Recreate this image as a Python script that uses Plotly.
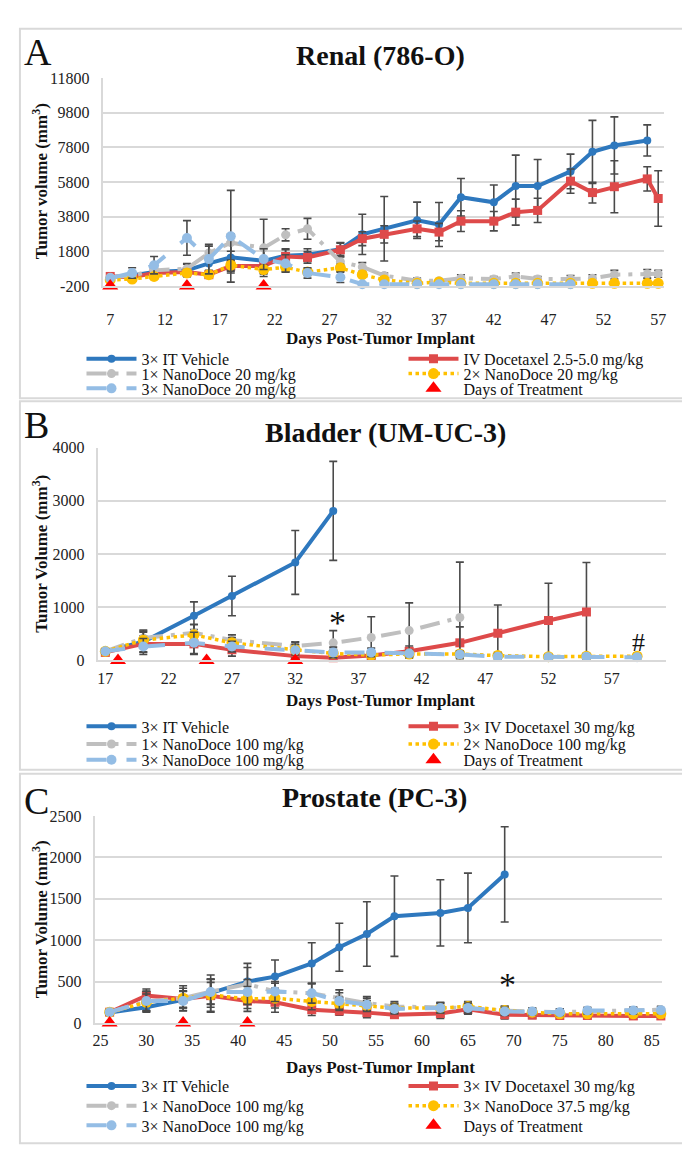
import plotly.graph_objects as go

W, H = 690, 1156
SERIF = "Liberation Serif, Times New Roman, serif"

# ---------------- Panel A : Renal (786-O) ----------------
days_A = [7, 9, 11, 14, 16, 18, 21, 23, 25, 28, 30, 32, 35, 37, 39, 42, 44, 46, 49, 51, 53, 56]
days_A_ext = [7, 9, 11, 14, 16, 18, 21, 23, 25, 28, 30, 32, 35, 37, 39, 42, 44, 46, 49, 51, 53, 56, 57]
days_A_3x = [7, 9, 11, 14, 16, 18, 21, 23, 25, 28, 30, 32, 35, 37, 39, 42, 44, 46, 49]
vehicle_A = [300, 400, 600, 700, 1100, 1450, 1250, 1550, 1600, 1920, 2780, 3100, 3590, 3350, 4920, 4630, 5570, 5570, 6410, 7540, 7910, 8200]
vehicle_A_err = [80, 150, 250, 350, 400, 900, 700, 400, 350, 350, 1160, 1860, 1050, 1270, 1080, 1000, 1780, 1530, 1000, 1820, 1650, 900]
docetaxel_A = [350, 300, 550, 600, 450, 950, 950, 1500, 1450, 1890, 2530, 2780, 3100, 2910, 3540, 3540, 4060, 4160, 5850, 5190, 5530, 5980, 4850]
docetaxel_A_err = [80, 100, 200, 250, 200, 300, 300, 400, 330, 420, 400, 500, 450, 500, 600, 560, 750, 700, 700, 600, 1500, 700, 1600]
nano1_A = [300, 400, 700, 800, 1700, 2300, 2000, 2750, 3100, 1200, 900, 400, 100, 100, 250, 200, 350, 200, 200, 250, 450, 500, 500]
nano1_A_err = [80, 150, 200, 300, 400, 500, 1650, 350, 600, 300, 250, 150, 150, 100, 200, 150, 200, 150, 200, 200, 250, 250, 200]
nano2_A = [150, 200, 350, 550, 450, 1000, 750, 880, 600, 850, 450, 150, -50, 30, -50, -50, -50, -50, -50, -50, -50, -50, -50]
nano2_A_err = [80, 100, 150, 200, 150, 300, 250, 250, 200, 200, 150, 100, 50, 50, 50, 50, 50, 50, 50, 50, 50, 50, 50]
nano3_A = [250, 550, 1000, 2570, 1350, 2670, 1350, 1100, 550, 300, -100, -100, -100, -100, -100, -100, -100, -100, -100]
nano3_A_err = [100, 300, 500, 1000, 850, 2650, 600, 500, 300, 300, 100, 100, 50, 50, 50, 50, 50, 50, 50]
treat_days_A = [7, 14, 21]
treat_level_A = [-200, -200, -200]
names_A = ["3× IT Vehicle", "IV Docetaxel 2.5-5.0 mg/kg", "1× NanoDoce 20 mg/kg",
           "2× NanoDoce 20 mg/kg", "3× NanoDoce 20 mg/kg", "Days of Treatment"]
yticks_A = [-200, 1800, 3800, 5800, 7800, 9800, 11800]
yticklabels_A = ["-200", "1800", "3800", "5800", "7800", "9800", "11800"]

# ---------------- Panel B : Bladder (UM-UC-3) ----------------
days_B = [17, 20, 24, 27, 32, 35, 38, 41, 45, 48, 52, 55, 59]
days_B_veh = [17, 20, 24, 27, 32, 35]
days_B_doc = [17, 20, 24, 27, 32, 35, 38, 41, 45, 48, 52, 55]
days_B_n1 = [17, 20, 24, 27, 32, 35, 38, 41, 45]
vehicle_B = [170, 350, 840, 1210, 1840, 2810]
vehicle_B_err = [50, 200, 260, 370, 600, 930]
docetaxel_B = [150, 310, 310, 200, 80, 50, 90, 170, 330, 510, 750, 910]
docetaxel_B_err = [50, 150, 200, 120, 60, 40, 60, 100, 300, 530, 700, 930]
nano1_B = [170, 420, 520, 380, 270, 330, 430, 560, 806]
nano1_B_err = [50, 150, 150, 100, 80, 230, 390, 520, 1040]
nano2_B = [170, 380, 480, 330, 200, 130, 100, 120, 120, 90, 70, 80, 80]
nano2_B_err = [50, 150, 200, 100, 100, 80, 60, 60, 60, 60, 50, 50, 60]
nano3_B = [170, 260, 330, 260, 190, 150, 150, 130, 110, 70, 60, 70, 60]
nano3_B_err = [50, 150, 200, 100, 150, 100, 80, 60, 60, 60, 40, 40, 40]
treat_days_B = [18, 25, 32]
treat_level_B = [0, 0, 0]
names_B = ["3× IT Vehicle", "3× IV Docetaxel 30 mg/kg", "1× NanoDoce 100 mg/kg",
           "2× NanoDoce 100 mg/kg", "3× NanoDoce 100 mg/kg", "Days of Treatment"]
yticks_B = [0, 1000, 2000, 3000, 4000]
yticklabels_B = ["0", "1000", "2000", "3000", "4000"]

# ---------------- Panel C : Prostate (PC-3) ----------------
days_C = [26, 30, 34, 37, 41, 44, 48, 51, 54, 57, 62, 65, 69, 72, 75, 78, 83, 86]
days_C_veh = [26, 30, 34, 37, 41, 44, 48, 51, 54, 57, 62, 65, 69]
vehicle_C = [125, 190, 280, 360, 500, 560, 720, 915, 1075, 1290, 1330, 1390, 1795]
vehicle_C_err = [30, 60, 100, 220, 220, 200, 250, 290, 390, 485, 400, 420, 575]
docetaxel_C = [130, 330, 290, 330, 265, 250, 160, 145, 125, 100, 115, 165, 100, 95, 90, 90, 85, 85]
docetaxel_C_err = [30, 80, 100, 200, 90, 120, 70, 50, 60, 40, 60, 60, 50, 40, 40, 40, 40, 40]
nano1_C = [130, 260, 300, 380, 470, 380, 360, 300, 240, 200, 190, 180, 150, 140, 130, 140, 150, 160]
nano1_C_err = [30, 120, 150, 150, 200, 100, 120, 100, 80, 60, 60, 60, 50, 40, 40, 40, 40, 40]
nano375_C = [130, 250, 300, 340, 290, 300, 260, 230, 210, 180, 180, 200, 150, 130, 110, 110, 110, 110]
nano375_C_err = [30, 100, 120, 150, 150, 120, 100, 80, 60, 60, 60, 60, 50, 40, 40, 40, 40, 40]
nano3_C = [130, 265, 265, 375, 375, 380, 360, 265, 220, 170, 180, 180, 140, 140, 130, 150, 150, 155]
nano3_C_err = [30, 120, 120, 150, 150, 120, 120, 100, 80, 60, 60, 60, 50, 40, 40, 40, 40, 40]
treat_days_C = [26, 34, 41]
treat_level_C = [0, 0, 0]
names_C = ["3× IT Vehicle", "3× IV Docetaxel 30 mg/kg", "1× NanoDoce 100 mg/kg",
           "3× NanoDoce 37.5 mg/kg", "3× NanoDoce 100 mg/kg", "Days of Treatment"]
yticks_C = [0, 500, 1000, 1500, 2000, 2500]
yticklabels_C = ["0", "500", "1000", "1500", "2000", "2500"]

# ---------------- styles ----------------
COL_VEH = "#2E78BE"
COL_DOC = "#DE4A4A"
COL_N1 = "#BFBFBF"
COL_N2 = "#FFC000"
COL_N3 = "#94BDE5"
COL_TRI = "#FF0000"
GRID = "#D9D9D9"
ERR = "#4A4A4A"
TICK_SIZE = 16
LEG_SIZE = 16

STYLES = [
    dict(color=COL_VEH, dash="solid", width=4, symbol="circle", size=8),
    dict(color=COL_DOC, dash="solid", width=4, symbol="square", size=9),
    dict(color=COL_N1, dash="longdashdot", width=4, symbol="circle", size=9),
    dict(color=COL_N2, dash="dot", width=3.5, symbol="circle", size=11),
    dict(color=COL_N3, dash="longdash", width=4, symbol="circle", size=10),
]

LEFT_W = 257    # legend entry width of the left column (px)
RIGHT_W = 200   # legend entry width of the right column (px)

fig = go.Figure()


def add_panel(series, treat_x, treat_y, names, xa, ya, legs):
    # legs: three legend ids, one per legend row (two entries per row)
    row_leg = [legs[0], legs[0], legs[1], legs[1], legs[2]]
    widths = [LEFT_W, RIGHT_W, LEFT_W, RIGHT_W, LEFT_W]
    for (x, y, e), st, nm, lg, lw in zip(series, STYLES, names[:5], row_leg, widths):
        fig.add_trace(go.Scatter(
            x=x, y=y, name=nm, mode="lines+markers",
            line=dict(color=st["color"], dash=st["dash"], width=st["width"]),
            marker=dict(color=st["color"], symbol=st["symbol"], size=st["size"]),
            error_y=dict(type="data", array=e, visible=True, color=ERR, thickness=1.6, width=4),
            xaxis=xa, yaxis=ya, legend=lg, legendwidth=lw, cliponaxis=False,
        ))
    fig.add_trace(go.Scatter(
        x=treat_x, y=treat_y, name=names[5], mode="markers",
        marker=dict(color=COL_TRI, symbol="triangle-up", size=14),
        xaxis=xa, yaxis=ya, legend=legs[2], legendwidth=RIGHT_W, cliponaxis=False,
    ))


add_panel([(days_A, vehicle_A, vehicle_A_err), (days_A_ext, docetaxel_A, docetaxel_A_err),
           (days_A_ext, nano1_A, nano1_A_err), (days_A_ext, nano2_A, nano2_A_err),
           (days_A_3x, nano3_A, nano3_A_err)], treat_days_A, treat_level_A, names_A, "x", "y",
          ["legend", "legend2", "legend3"])
add_panel([(days_B_veh, vehicle_B, vehicle_B_err), (days_B_doc, docetaxel_B, docetaxel_B_err),
           (days_B_n1, nano1_B, nano1_B_err), (days_B, nano2_B, nano2_B_err),
           (days_B, nano3_B, nano3_B_err)], treat_days_B, treat_level_B, names_B, "x2", "y2",
          ["legend4", "legend5", "legend6"])
add_panel([(days_C_veh, vehicle_C, vehicle_C_err), (days_C, docetaxel_C, docetaxel_C_err),
           (days_C, nano1_C, nano1_C_err), (days_C, nano375_C, nano375_C_err),
           (days_C, nano3_C, nano3_C_err)], treat_days_C, treat_level_C, names_C, "x3", "y3",
          ["legend7", "legend8", "legend9"])


def px_x(p):
    return p / W


def px_y(p):
    return 1 - p / H


def xaxis(dom, rng, t0, standoff):
    return dict(domain=dom, range=rng, tick0=t0, dtick=5, tickmode="linear",
                showgrid=False, zeroline=False, showline=True, linecolor=GRID, linewidth=1.5,
                ticks="", ticklabelstandoff=standoff,
                tickfont=dict(family=SERIF, size=TICK_SIZE, color="#222"))


def yaxis(dom, rng, tv, tt, anchor):
    return dict(domain=dom, range=rng, tickvals=tv, ticktext=tt, tickmode="array",
                showgrid=True, gridcolor=GRID, gridwidth=1.5, zeroline=False,
                showline=True, linecolor=GRID, linewidth=1.5, ticks="",
                ticklabelstandoff=9, anchor=anchor,
                tickfont=dict(family=SERIF, size=TICK_SIZE, color="#222"))


def legend(center_px):
    return dict(orientation="h", x=px_x(71), xanchor="left", y=px_y(center_px), yanchor="middle",
                entrywidthmode="pixels", itemwidth=50,
                font=dict(family=SERIF, size=LEG_SIZE, color="#111"), bgcolor="rgba(0,0,0,0)",
                traceorder="normal", tracegroupgap=0)


legend_rows = [348, 363, 378, 721, 739, 755, 1086, 1106, 1126]
leg_layout = {}
for i, c in enumerate(legend_rows):
    key = "legend" if i == 0 else f"legend{i + 1}"
    leg_layout[key] = legend(c)

fig.update_layout(
    width=W, height=H, margin=dict(l=0, r=0, t=0, b=0),
    paper_bgcolor="white", plot_bgcolor="white",
    font=dict(family=SERIF, size=14, color="#222"),
    xaxis=dict(**xaxis([px_x(93), px_x(658)], [6.37, 57.55], 7, 18), anchor="y"),
    yaxis=yaxis([px_y(274), px_y(63)], [-200, 11800], yticks_A, yticklabels_A, "x"),
    xaxis2=dict(**xaxis([px_x(88), px_x(660)], [16.45, 61.3], 17, 3), anchor="y2"),
    yaxis2=yaxis([px_y(654), px_y(438)], [0, 4000], yticks_B, yticklabels_B, "x2"),
    xaxis3=dict(**xaxis([px_x(85), px_x(656)], [24.45, 86.15], 25, 2), anchor="y3"),
    yaxis3=yaxis([px_y(1022), px_y(812)], [0, 2500], yticks_C, yticklabels_C, "x3"),
    showlegend=True,
    **leg_layout,
)

# panel frames
for top, bot in [(13, 388), (391, 765), (769, 1144)]:
    fig.add_shape(type="rect", xref="paper", yref="paper", x0=px_x(9), x1=px_x(681),
                  y0=px_y(bot), y1=px_y(top), line=dict(color=GRID, width=2), layer="below")

ann = []


def text(x, y, s, size, bold=False, angle=0, xanchor="center"):
    ann.append(dict(xref="paper", yref="paper", x=px_x(x), y=px_y(y), text=f"<b>{s}</b>" if bold else s,
                    showarrow=False, textangle=angle, xanchor=xanchor, yanchor="middle",
                    font=dict(family=SERIF, size=size, color="#111")))


text(11, 37, "A", 38, xanchor="left")
text(11, 415, "B", 38, xanchor="left")
text(11, 797, "C", 38, xanchor="left")
text(372, 40, "Renal (786-O)", 28, bold=True)
text(377, 423, "Bladder (UM-UC-3)", 28, bold=True)
text(366, 793, "Prostate (PC-3)", 28, bold=True)
text(372, 327, "Days Post-Tumor Implant", 17, bold=True)
text(372, 695, "Days Post-Tumor Implant", 17, bold=True)
text(372, 1067, "Days Post-Tumor Implant", 17, bold=True)
text(29, 168, "Tumor volume (mm<sup>3</sup>)", 17, bold=True, angle=-90)
text(29, 546, "Tumor Volume (mm<sup>3</sup>)", 17, bold=True, angle=-90)
text(29, 917, "Tumor Volume (mm<sup>3</sup>)", 17, bold=True, angle=-90)

# significance marks
ann.append(dict(xref="x2", yref="y2", x=35.3, y=720, text="*", showarrow=False,
                font=dict(family=SERIF, size=34, color="#111")))
ann.append(dict(xref="x2", yref="y2", x=59.1, y=340, text="#", showarrow=False,
                font=dict(family=SERIF, size=26, color="#111")))
ann.append(dict(xref="x3", yref="y3", x=69.3, y=470, text="*", showarrow=False,
                font=dict(family=SERIF, size=34, color="#111")))
fig.update_layout(annotations=ann)

fig.write_html("out.html")
